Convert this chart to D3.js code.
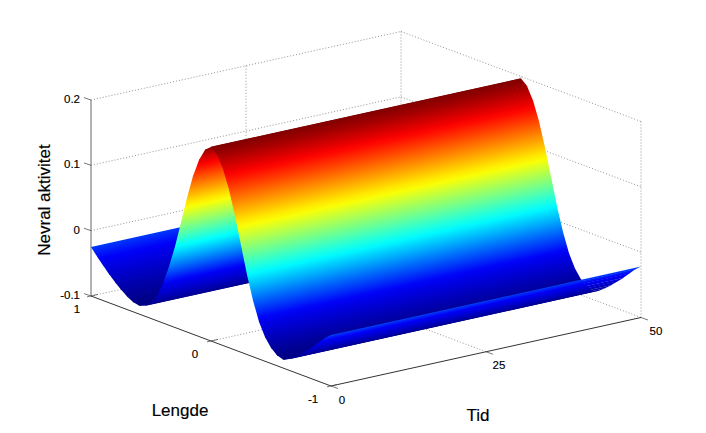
<!DOCTYPE html>
<html><head><meta charset="utf-8">
<script src="https://d3js.org/d3.v7.min.js"></script>
<style>html,body{margin:0;background:#fff}svg{display:block}text{font-family:"Liberation Sans",Arial,sans-serif;fill:#000;stroke:#000;stroke-width:0.15}</style>
</head><body><svg id="c" width="706" height="433"></svg>
<script>
// Data
const lengthValues = [-1,-0.95,-0.9,-0.85,-0.8,-0.75,-0.7,-0.65,-0.6,-0.55,-0.5,-0.45,-0.4,-0.35,-0.3,-0.25,-0.2,-0.15,-0.1,-0.05,0,0.05,0.1,0.15,0.2,0.25,0.3,0.35,0.4,0.45,0.5,0.55,0.6,0.65,0.7,0.75,0.8,0.85,0.9,0.95,1];
const activityValues = [-0.022,-0.03,-0.04,-0.05,-0.059,-0.068,-0.076,-0.083,-0.087,-0.084,-0.076,-0.063,-0.043,-0.014,0.022,0.064,0.105,0.142,0.17,0.189,0.197,0.189,0.17,0.142,0.105,0.064,0.024,-0.01,-0.04,-0.062,-0.076,-0.084,-0.087,-0.085,-0.08,-0.073,-0.065,-0.056,-0.046,-0.036,-0.025];
const timeRange = [0,50];
const timeTicks = [0,25,50];
const lengthTicks = [-1,0,1];
const activityTicks = [-0.1,0,0.1,0.2];
const axisTitles = {activity:"Nevral aktivitet", length:"Lengde", time:"Tid"};

const svg = d3.select("#c"), defs = svg.append("defs");
const tx = d3.scaleLinear().domain(timeRange).range([0,310]);
const ty = d3.scaleLinear().domain(timeRange).range([0,-68.5]);
const lx = d3.scaleLinear().domain([-1,1]).range([331,91]);
const ly = d3.scaleLinear().domain([-1,1]).range([386,296]);
const zy = d3.scaleLinear().domain([-0.1,0.2]).range([0,-196]);
const P = (t,l,z) => [lx(l)+tx(t), ly(l)+ty(t)+zy(z)];
const zMin = d3.min(activityValues), zMax = d3.max(activityValues);
const jet = d3.scaleLinear()
  .domain([0,0.17,0.39,0.625,0.875,1].map(f=>zMin+f*(zMax-zMin)))
  .range(["#000084","#0000f8","#00ffff","#ffff00","#ff0000","#800000"]).clamp(true);

const seg = (a,b,o) => svg.append("line").attr("x1",a[0]).attr("y1",a[1]).attr("x2",b[0]).attr("y2",b[1])
  .attr("stroke",o.c).attr("stroke-width",o.w||1).attr("stroke-dasharray",o.d||null);
const dot = {c:"#777",w:0.8,d:"1 2"};
const [t0,t1] = timeRange, zLo = activityTicks[0], zHi = activityTicks[activityTicks.length-1];

activityTicks.forEach(z=>{ seg(P(t0,1,z),P(t1,1,z),dot); seg(P(t1,1,z),P(t1,-1,z),dot); });
timeTicks.forEach(t=>{ if(t>t0) seg(P(t,1,zLo),P(t,1,zHi),dot); if(t>t0&&t<t1) seg(P(t,-1,zLo),P(t,1,zLo),dot); });
lengthTicks.forEach(l=>{ if(l<1) seg(P(t1,l,zLo),P(t1,l,zHi),dot); if(l>-1&&l<1) seg(P(t0,l,zLo),P(t1,l,zLo),dot); });

seg(P(t0,1,zLo),P(t0,1,zHi),{c:"#666",w:1});
seg(P(t0,1,zLo),P(t0,-1,zLo),{c:"#333",w:1});
seg(P(t0,-1,zLo),P(t1,-1,zLo),{c:"#333",w:1});
activityTicks.forEach(z=>{const p=P(t0,1,z); seg(p,[p[0]-7,p[1]-2.4],{c:"#555",w:0.8});});
lengthTicks.forEach(l=>{const p=P(t0,l,zLo); seg([p[0]-4,p[1]+0.9],[p[0]+7,p[1]-1.6],{c:"#555",w:0.8});});
timeTicks.forEach(t=>{const p=P(t,-1,zLo); seg(p,[p[0]+7,p[1]+2.5],{c:"#555",w:0.8});});

const order = d3.range(lengthValues.length-1).reverse();
const nl = Math.hypot(68.5,310); const nx=68.5/nl, ny=310/nl;
const overlapPx = 0.8;
order.forEach(i=>{
  const a = P(t0,lengthValues[i],activityValues[i]), b = P(t0,lengthValues[i+1],activityValues[i+1]);
  const c = P(t1,lengthValues[i+1],activityValues[i+1]), d = P(t1,lengthValues[i],activityValues[i]);
  const dist = (b[0]-a[0])*nx+(b[1]-a[1])*ny;
  const id = "g"+i;
  const g = defs.append("linearGradient").attr("id",id).attr("gradientUnits","userSpaceOnUse")
    .attr("x1",a[0]).attr("y1",a[1]).attr("x2",a[0]+nx*dist).attr("y2",a[1]+ny*dist);
  d3.range(0,1.01,0.2).forEach(f=>{
    g.append("stop").attr("offset",f).attr("stop-color",jet(activityValues[i]+f*(activityValues[i+1]-activityValues[i])));
  });
  const len = Math.hypot(a[0]-b[0],a[1]-b[1]);
  const ext = i>0 ? overlapPx/len : 0;
  const a2 = [a[0]+(a[0]-b[0])*ext, a[1]+(a[1]-b[1])*ext];
  const d2 = [d[0]+(d[0]-c[0])*ext, d[1]+(d[1]-c[1])*ext];
  svg.append("polygon").attr("points",[a2,b,c,d2].map(p=>p.join(",")).join(" "))
    .attr("fill",`url(#${id})`);
});

const txt = (s,x,y,o={}) => svg.append("text").text(s).attr("x",x).attr("y",y)
  .attr("font-size",o.size||11.5).attr("text-anchor",o.anchor||"middle").attr("dominant-baseline","middle")
  .attr("transform",o.rot?`rotate(${o.rot} ${x} ${y})`:null);
activityTicks.forEach(z=>{const p=P(t0,1,z); txt(String(z),80,p[1],{anchor:"end"});});
lengthTicks.forEach(l=>{const p=P(t0,l,zLo); txt(String(l),p[0]-16+l*2,p[1]+13.5);});
timeTicks.forEach(t=>{const p=P(t,-1,zLo); txt(String(t),p[0]+11+t*0.08,p[1]+14.5);});
txt(axisTitles.activity,46,200,{size:17,rot:-90});
txt(axisTitles.length,180,412,{size:17});
txt(axisTitles.time,478,417,{size:17});
</script></body></html>
